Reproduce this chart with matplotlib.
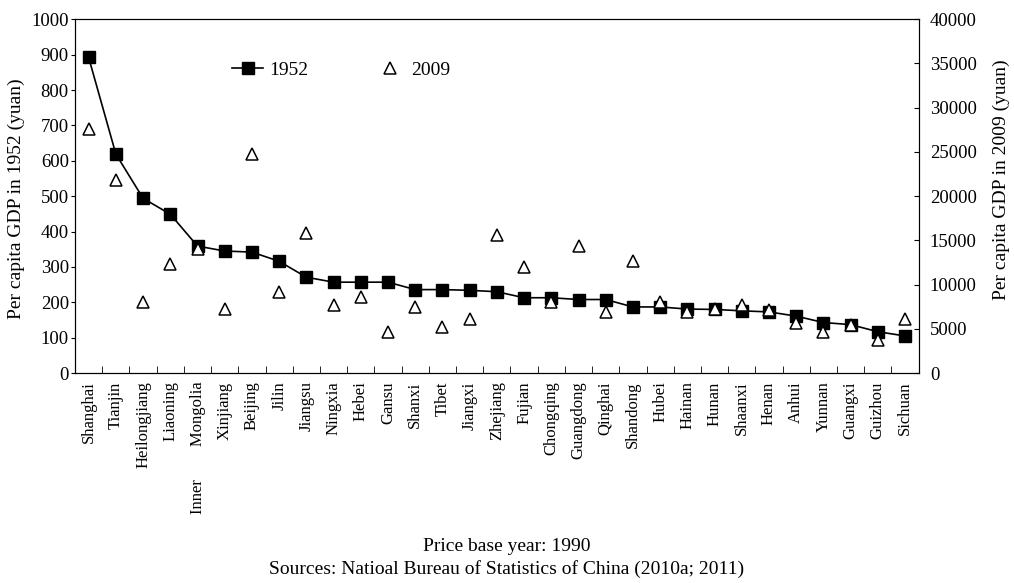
import matplotlib
matplotlib.use("Agg")
import matplotlib.pyplot as plt
import numpy as np

plt.rcParams['font.family'] = ['Liberation Serif', 'DejaVu Serif']

provinces = ['Shanghai', 'Tianjin', 'Heilongjiang', 'Liaoning', 'Inner        Mongolia',
             'Xinjiang', 'Beijing', 'Jilin', 'Jiangsu', 'Ningxia', 'Hebei', 'Gansu',
             'Shanxi', 'Tibet', 'Jiangxi', 'Zhejiang', 'Fujian', 'Chongqing',
             'Guangdong', 'Qinghai', 'Shandong', 'Hubei', 'Hainan', 'Hunan',
             'Shaanxi', 'Henan', 'Anhui', 'Yunnan', 'Guangxi', 'Guizhou', 'Sichuan']

# per capita GDP 1952 (left axis, yuan)
gdp_1952 = [892, 619, 494, 449, 359, 345, 342, 316, 271, 257, 257, 257,
            236, 236, 234, 230, 213, 213, 208, 208, 187, 187, 181, 180,
            176, 173, 161, 143, 137, 117, 105]

# per capita GDP 2009 (right axis, yuan)
gdp_2009 = [27540, 21810, 7990, 12320, 13980, 7200, 24750, 9190, 15790, 7680,
            8620, 4600, 7490, 5160, 6070, 15560, 11940, 8060, 14350, 6930,
            12660, 8060, 6860, 7200, 7680, 7120, 5690, 4670, 5420, 3730, 6070]

x = np.arange(len(provinces))

fig = plt.figure(figsize=(10.14, 5.83), dpi=100)
ax = fig.add_axes([0.074, 0.360, 0.832, 0.607])
ax2 = ax.twinx()

l1, = ax.plot(x, gdp_1952, color='black', lw=1.2, marker='s', ms=8.5,
              markerfacecolor='black', label='1952')
l2, = ax2.plot(x, gdp_2009, ls='none', marker='^', ms=9, markerfacecolor='white',
               markeredgecolor='black', mew=1.1, label='2009')

ax.set_xlim(-0.5, len(provinces) - 0.5)
ax.set_ylim(0, 1000)
ax2.set_ylim(0, 40000)
ax.set_yticks(np.arange(0, 1001, 100))
ax2.set_yticks(np.arange(0, 40001, 5000))

ax.set_xticks(x)
ax.set_xticklabels(provinces, rotation=90, fontsize=12)
ax.set_xticks(np.arange(-0.5, len(provinces), 1), minor=True)
ax.tick_params(axis='x', which='major', length=0, pad=6)
ax.tick_params(axis='x', which='minor', direction='in', length=5)
ax.tick_params(axis='y', labelsize=13.5, direction='out', length=3, pad=1.5)
ax2.tick_params(axis='y', labelsize=13.5, direction='in', length=3.5, pad=8)

ax.set_ylabel('Per capita GDP in 1952 (yuan)', fontsize=14)
ax2.set_ylabel('Per capita GDP in 2009 (yuan)', fontsize=14)
ax.yaxis.set_label_coords(-0.059, 0.4915)
ax2.yaxis.set_label_coords(1.088, 0.548)

ax.legend(handles=[l1, l2], loc='center left', bbox_to_anchor=(0.186, 0.856),
          ncol=2, frameon=False, fontsize=14, columnspacing=3.4, handlelength=1.6,
          handletextpad=0.3, borderpad=0, borderaxespad=0)

fig.text(0.5, 0.055, 'Price base year: 1990', ha='center', fontsize=14)
fig.text(0.5, 0.016, 'Sources: Natioal Bureau of Statistics of China (2010a; 2011)',
         ha='center', fontsize=14)

fig.savefig('out.png', dpi=100)
